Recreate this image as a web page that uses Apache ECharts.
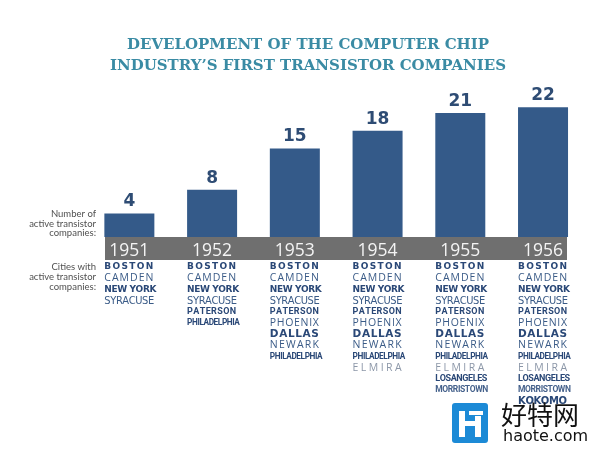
<!DOCTYPE html>
<html><head><meta charset="utf-8">
<script src="https://cdn.jsdelivr.net/npm/echarts@6/dist/echarts.min.js"></script>
<style>html,body{margin:0;padding:0;background:#fff}#c{width:600px;height:457px}</style>
</head><body><div id="c"></div>
<script>
// ---- data ----
const years = ['1951', '1952', '1953', '1954', '1955', '1956'];
const companies = [4, 8, 15, 18, 21, 22];
const cities1951 = ['BOSTON', 'CAMDEN', 'NEW YORK', 'SYRACUSE'];
const cities1952 = ['BOSTON', 'CAMDEN', 'NEW YORK', 'SYRACUSE', 'PATERSON', 'PHILADELPHIA'];
const cities1953 = ['BOSTON', 'CAMDEN', 'NEW YORK', 'SYRACUSE', 'PATERSON', 'PHOENIX', 'DALLAS', 'NEWARK', 'PHILADELPHIA'];
const cities1954 = ['BOSTON', 'CAMDEN', 'NEW YORK', 'SYRACUSE', 'PATERSON', 'PHOENIX', 'DALLAS', 'NEWARK', 'PHILADELPHIA', 'ELMIRA'];
const cities1955 = ['BOSTON', 'CAMDEN', 'NEW YORK', 'SYRACUSE', 'PATERSON', 'PHOENIX', 'DALLAS', 'NEWARK', 'PHILADELPHIA', 'ELMIRA', 'LOSANGELES', 'MORRISTOWN'];
const cities1956 = ['BOSTON', 'CAMDEN', 'NEW YORK', 'SYRACUSE', 'PATERSON', 'PHOENIX', 'DALLAS', 'NEWARK', 'PHILADELPHIA', 'ELMIRA', 'LOSANGELES', 'MORRISTOWN', 'KOKOMO'];
const citiesByYear = [cities1951, cities1952, cities1953, cities1954, cities1955, cities1956];
const titleText = 'DEVELOPMENT OF THE COMPUTER CHIP\nINDUSTRY\u2019S FIRST TRANSISTOR COMPANIES';
const countLabel = 'Number of\nactive transistor\ncompanies:';
const citiesLabel = 'Cities with\nactive transistor\ncompanies:';

// ---- styles ----
const BLUE = '#2a4877';
const MID = '#3a5b87';
const COND = "'DejaVu Sans Condensed', 'DejaVu Sans'";
const NARROWB = "Roboto";
const HEAVY = "'DejaVu Sans'";
const LIGHT = "'Open Sans'";
const cityStyle = {
  'BOSTON':       { fontFamily: HEAVY, fontWeight: 'bold', fontSize: 9, color: BLUE },
  'CAMDEN':       { fontFamily: LIGHT, fontWeight: 'normal', fontSize: 10.5, color: MID },
  'NEW YORK':     { fontFamily: HEAVY, fontWeight: 'bold', fontSize: 9.5, color: BLUE },
  'SYRACUSE':     { fontFamily: COND, fontWeight: 'normal', fontSize: 11, color: MID },
  'PATERSON':     { fontFamily: NARROWB, fontWeight: 'bold', fontSize: 9, color: BLUE },
  'PHOENIX':      { fontFamily: LIGHT, fontWeight: 'normal', fontSize: 10.5, color: MID },
  'DALLAS':       { fontFamily: HEAVY, fontWeight: 'bold', fontSize: 10.5, color: BLUE },
  'NEWARK':       { fontFamily: LIGHT, fontWeight: 'normal', fontSize: 10.5, color: MID },
  'PHILADELPHIA': { fontFamily: NARROWB, fontWeight: 'bold', fontSize: 8.5, color: BLUE },
  'ELMIRA':       { fontFamily: LIGHT, fontWeight: 'normal', fontSize: 10.5, color: '#8c97a8' },
  'LOSANGELES':   { fontFamily: NARROWB, fontWeight: 'bold', fontSize: 10, color: BLUE },
  'MORRISTOWN':   { fontFamily: NARROWB, fontWeight: 'bold', fontSize: 8.5, color: '#46628c' },
  'KOKOMO':       { fontFamily: HEAVY, fontWeight: 'bold', fontSize: 10, color: BLUE }
};
const BLOCK_W = 49;
const MAX_DRAWN = 53;
const MIN_GAP = -0.4;

const ctx = document.createElement('canvas').getContext('2d');
function measure(t, s, size) { ctx.font = (s.fontWeight || 'normal') + ' ' + size + 'px ' + s.fontFamily; return ctx.measureText(t).width; }
const keyOf = n => n.replace(/\s/g, '').toLowerCase();
const rich = {};
const cityRich = {};
Object.keys(cityStyle).forEach(name => {
  const s = cityStyle[name];
  const chars = Array.from(name);
  const n = chars.length;
  let size = s.fontSize;
  let cw = chars.map(c => measure(c, s, size));
  let total = cw.reduce((a, b) => a + b, 0);
  const limit = MAX_DRAWN - MIN_GAP * (n - 1);
  if (total > limit) {
    size = Math.floor(size * limit / total * 4) / 4;
    cw = chars.map(c => measure(c, s, size));
    total = cw.reduce((a, b) => a + b, 0);
  }
  const gap = Math.max(MIN_GAP, (BLOCK_W - total) / (n - 1));
  let used = 0;
  const parts = chars.map((c, i) => {
    const k = keyOf(name) + '_' + i;
    let w;
    if (i < n - 1) { w = Math.max(0.1, cw[i] + gap); used += w; }
    else { w = Math.max(0.1, BLOCK_W + 1 - used); }
    rich[k] = {
      fontFamily: s.fontFamily, fontWeight: s.fontWeight, fontSize: size, color: s.color,
      lineHeight: 11.2, height: 11.2, align: 'left', width: w
    };
    return '{' + k + '|' + c + '}';
  });
  cityRich[name] = parts.join('');
});

const chart = echarts.init(document.getElementById('c'), null, { renderer: 'canvas' });
chart.setOption({
  animation: false,
  backgroundColor: '#ffffff',
  title: {
    text: titleText, left: 303, top: 30, textAlign: 'center',
    textStyle: { fontFamily: "'DejaVu Serif'", fontWeight: 'bold', fontSize: 15, color: '#3a8ba4', lineHeight: 21 }
  },
  grid: { left: 88, right: 15.6, top: 89.5, bottom: 220, containLabel: false },
  xAxis: [
    {
      type: 'category', data: years, z: 10,
      axisLine: { show: false }, axisTick: { show: false },
      axisLabel: { margin: 4, fontSize: 17.5, lineHeight: 20, color: '#f4f4f4', fontFamily: "'Open Sans'", interval: 0 }
    },
    {
      type: 'category', data: years, position: 'bottom', z: 10,
      axisLine: { show: false }, axisTick: { show: false },
      axisLabel: {
        margin: 24.5, interval: 0, rich: rich,
        formatter: (v, i) => citiesByYear[i].map(n => cityRich[n]).join('\n')
      }
    }
  ],
  yAxis: { type: 'value', min: 0, max: 25, show: false, splitLine: { show: false } },
  series: [{
    type: 'bar', data: companies, barWidth: 50, xAxisIndex: 0,
    itemStyle: { color: '#345a89' },
    label: { show: true, position: 'top', distance: 3, fontSize: 17, fontWeight: 'bold', fontFamily: "'DejaVu Sans'", color: '#2e4c74' }
  }],
  graphic: [
    { type: 'rect', z: 1, shape: { x: 105, y: 237, width: 462, height: 23 }, style: { fill: '#6f6f6f' } },
    { type: 'text', z: 5, style: { text: countLabel, x: 96, y: 209, align: 'right', font: "9.5px Lato", lineHeight: 9.7, fill: '#505050' } },
    { type: 'text', z: 5, style: { text: citiesLabel, x: 96, y: 262, align: 'right', font: "9.5px Lato", lineHeight: 10, fill: '#505050' } },
    { type: 'rect', z: 20, shape: { x: 452, y: 403, width: 36, height: 40, r: 3 }, style: { fill: '#1c8ad6' } },
    { type: 'rect', z: 21, shape: { x: 459, y: 411, width: 6, height: 26 }, style: { fill: '#ffffff' } },
    { type: 'rect', z: 21, shape: { x: 465, y: 421, width: 10, height: 5 }, style: { fill: '#ffffff' } },
    { type: 'rect', z: 21, shape: { x: 475, y: 416, width: 6, height: 21 }, style: { fill: '#ffffff' } },
    { type: 'rect', z: 21, shape: { x: 469, y: 411, width: 14, height: 4 }, style: { fill: '#ffffff' } },
    { type: 'text', z: 21, style: { text: '好特网', x: 501, y: 402, font: "26px 'Noto Sans CJK SC'", fill: '#111111' } },
    { type: 'text', z: 21, style: { text: 'haote.com', x: 503, y: 429, font: "16px 'DejaVu Sans'", fill: '#111111' } }
  ]
});
</script></body></html>
